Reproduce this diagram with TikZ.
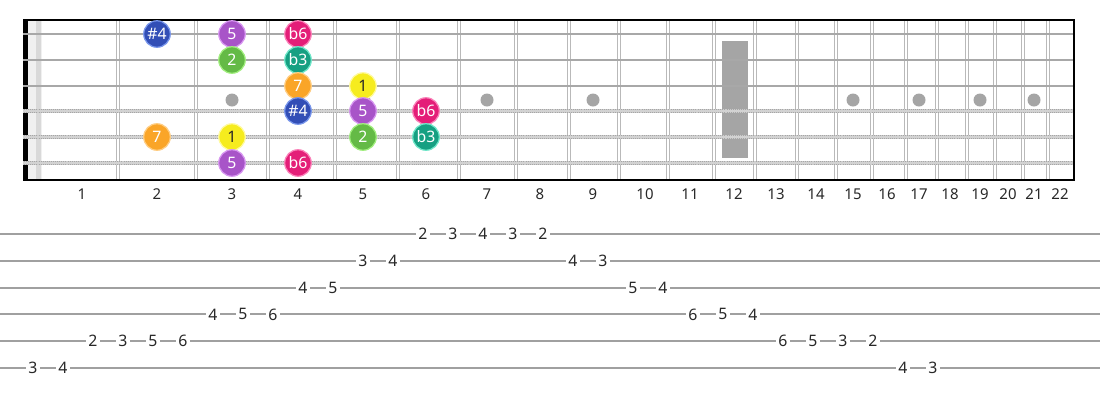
\documentclass[tikz,border=0pt]{standalone}
\usepackage{fontspec}
\setmainfont{Noto Sans}
\definecolor{blueF}{RGB}{50,78,182}
\definecolor{blueD}{RGB}{120,150,235}
\definecolor{purpleF}{RGB}{168,84,200}
\definecolor{purpleD}{RGB}{215,150,240}
\definecolor{pinkF}{RGB}{228,30,120}
\definecolor{pinkD}{RGB}{250,130,185}
\definecolor{greenF}{RGB}{100,186,70}
\definecolor{greenD}{RGB}{160,238,125}
\definecolor{tealF}{RGB}{22,160,130}
\definecolor{tealD}{RGB}{110,230,200}
\definecolor{orangeF}{RGB}{250,165,40}
\definecolor{orangeD}{RGB}{255,205,130}
\definecolor{yellowF}{RGB}{246,236,30}
\definecolor{yellowD}{RGB}{255,250,160}
\definecolor{stringgray}{RGB}{168,168,168}
\definecolor{fretgray}{RGB}{185,185,185}
\definecolor{inlaygray}{RGB}{165,165,165}
\definecolor{tabgray}{RGB}{160,160,160}
\definecolor{numgray}{RGB}{40,40,40}
\tikzstyle{note}=[circle, inner sep=0pt, minimum size=0.53cm, line width=0.7pt, text=white, font=\fontsize{9}{10}\selectfont]
\tikzstyle{nblue}=[note, fill=blueF, draw=blueD]
\tikzstyle{npurple}=[note, fill=purpleF, draw=purpleD]
\tikzstyle{npink}=[note, fill=pinkF, draw=pinkD]
\tikzstyle{ngreen}=[note, fill=greenF, draw=greenD]
\tikzstyle{nteal}=[note, fill=tealF, draw=tealD]
\tikzstyle{norange}=[note, fill=orangeF, draw=orangeD]
\tikzstyle{nyellow}=[note, fill=yellowF, draw=yellowD, text=numgray]
\tikzstyle{fretnum}=[inner sep=0pt, text=numgray, font=\fontsize{8.5}{10}\selectfont]
\tikzstyle{tabnum}=[fill=white, inner sep=1.2pt, text=numgray, font=\fontsize{9}{10}\selectfont]
\tikzstyle{fretwire}=[fretgray, line width=0.9pt]
\tikzstyle{plainstring}=[stringgray, line width=1.7pt]
\tikzstyle{woundstring}=[gray!70, line width=2.6pt]
\tikzstyle{woundridge}=[gray!40, line width=2.6pt, dash pattern=on 0.5pt off 0.6pt]
\tikzstyle{woundcore}=[gray!35, line width=0.7pt]
\tikzstyle{tabline}=[tabgray, line width=1.1pt]

\begin{document}
\begin{tikzpicture}[x=0.02cm, y=-0.02cm]
        \useasboundingbox (0,0) rectangle (1100,400);
        \fill[white] (0,0) rectangle (1100,400);
        \fill[gray!12] (28,20) rectangle (42,180);
        \fill[gray!30] (36,20) rectangle (41,180);
        \foreach \x in {118,196,268,335,398,459,516,569,619,668,714,755,797,836,872,906,937,967,995,1023,1048} {
            \draw[fretwire] (\x-1.6,20) -- (\x-1.6,180);
            \draw[fretwire] (\x+1.6,20) -- (\x+1.6,180);
        }
        \fill[inlaygray] (722,41) rectangle (748,158);
        \foreach \x in {232,364,487,593,853,919,980,1034}
            \fill[inlaygray] (\x,100) circle (3.7pt);
        \fill[black] (23,20) rectangle (28,180);
        \foreach \y in {34,60,86}
            \draw[plainstring] (23,\y) -- (1075,\y);
        \foreach \y in {111,137,163} {
            \draw[woundstring] (23,\y) -- (1075,\y);
            \draw[woundridge] (23,\y) -- (1075,\y);
            \draw[woundcore] (23,\y) -- (1075,\y);
        }
        \draw[black, line width=0.9pt] (23,20) -- (1075,20);
        \draw[black, line width=0.9pt] (23,180) -- (1075,180);
        \draw[black, line width=1.3pt] (1074,20) -- (1074,180);
        \node[nblue]   (s1f2) at (157,34)  {\#4};
        \node[npurple] (s1f3) at (232,34)  {5};
        \node[npink]   (s1f4) at (298,34)  {b6};
        \node[ngreen]  (s2f3) at (232,60)  {2};
        \node[nteal]   (s2f4) at (298,60)  {b3};
        \node[norange] (s3f4) at (298,86)  {7};
        \node[nyellow] (s3f5) at (363,86)  {1};
        \node[nblue]   (s4f4) at (298,111) {\#4};
        \node[npurple] (s4f5) at (363,111) {5};
        \node[npink]   (s4f6) at (426,111) {b6};
        \node[norange] (s5f2) at (157,137) {7};
        \node[nyellow] (s5f3) at (232,137) {1};
        \node[ngreen]  (s5f5) at (363,137) {2};
        \node[nteal]   (s5f6) at (426,137) {b3};
        \node[npurple] (s6f3) at (232,163) {5};
        \node[npink]   (s6f4) at (298,163) {b6};
        \foreach \x [count=\i] in {82,157,232,298,363,426,487,540,593,645,690,734,776,816,853,887,919,950,980,1008,1034,1060}
            \node[fretnum] (fn\i) at (\x,194) {\i};
        \foreach \y in {234,260.8,287.6,314.4,341.2,368}
            \draw[tabline] (0,\y) -- (1100,\y);
        \foreach \s/\f [count=\k from 0] in {6/3,6/4,5/2,5/3,5/5,5/6,4/4,4/5,4/6,3/4,3/5,2/3,2/4,1/2,1/3,1/4,1/3,1/2,2/4,2/3,3/5,3/4,4/6,4/5,4/4,5/6,5/5,5/3,5/2,6/4,6/3}
            \node[tabnum] (t\k) at ({33+30*\k},{234+26.8*(\s-1)}) {\f};
    \end{tikzpicture}
\end{document}
